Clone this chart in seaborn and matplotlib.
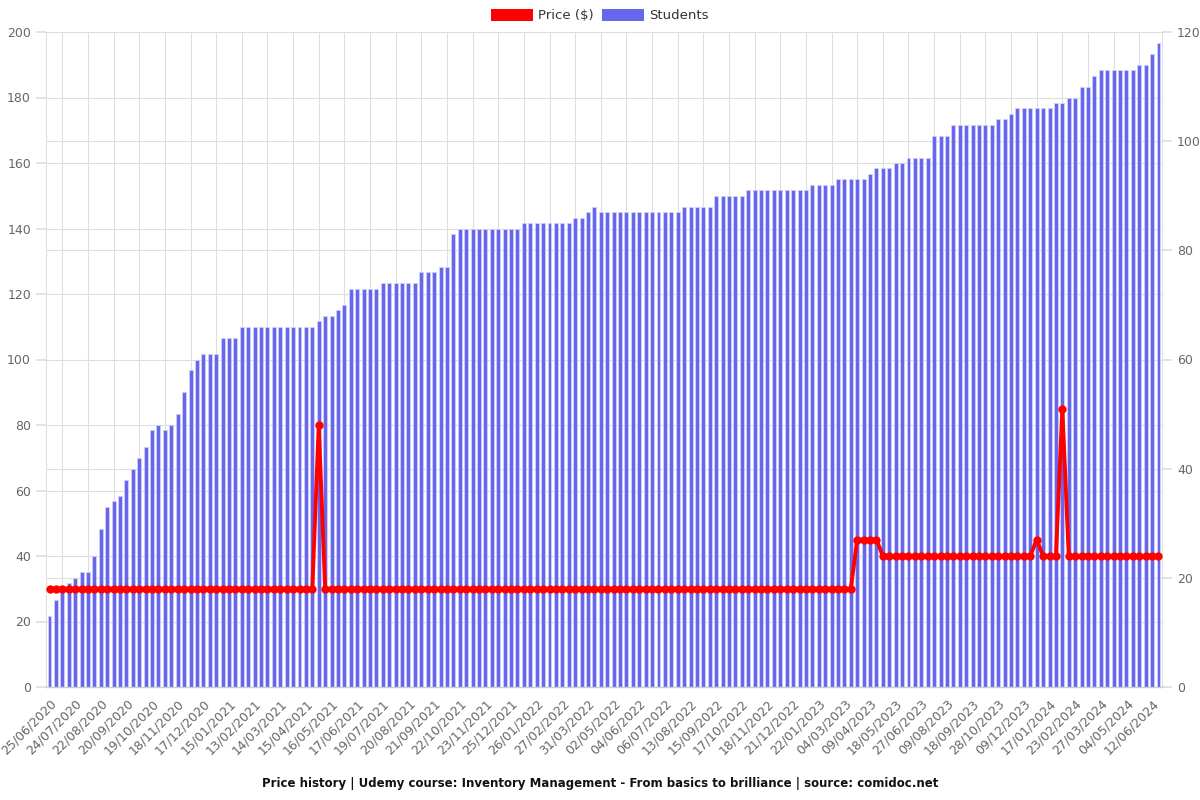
import numpy as np
import pandas as pd
import matplotlib
matplotlib.use("Agg")
import matplotlib.pyplot as plt
import matplotlib.transforms as mtransforms
from matplotlib.patches import Patch
import seaborn as sns

# ---------------- data ----------------
students = [
    13, 16, 18, 19, 20, 21, 21, 24, 29, 33, 34, 35, 38, 40, 42, 44, 47, 48, 47, 48,
    50, 54, 58, 60, 61, 61, 61, 64, 64, 64, 66, 66, 66, 66, 66, 66, 66, 66, 66, 66,
    66, 66, 67, 68, 68, 69, 70, 73, 73, 73, 73, 73, 74, 74, 74, 74, 74, 74, 76, 76,
    76, 77, 77, 83, 84, 84, 84, 84, 84, 84, 84, 84, 84, 84, 85, 85, 85, 85, 85, 85,
    85, 85, 86, 86, 87, 88, 87, 87, 87, 87, 87, 87, 87, 87, 87, 87, 87, 87, 87, 88,
    88, 88, 88, 88, 90, 90, 90, 90, 90, 91, 91, 91, 91, 91, 91, 91, 91, 91, 91, 92,
    92, 92, 92, 93, 93, 93, 93, 93, 94, 95, 95, 95, 96, 96, 97, 97, 97, 97, 101, 101,
    101, 103, 103, 103, 103, 103, 103, 103, 104, 104, 105, 106, 106, 106, 106, 106, 106, 107, 107, 108,
    108, 110, 110, 112, 113, 113, 113, 113, 113, 113, 114, 114, 116, 118,
]

price = [
    30, 30, 30, 30, 30, 30, 30, 30, 30, 30, 30, 30, 30, 30, 30, 30, 30, 30, 30, 30,
    30, 30, 30, 30, 30, 30, 30, 30, 30, 30, 30, 30, 30, 30, 30, 30, 30, 30, 30, 30,
    30, 30, 80, 30, 30, 30, 30, 30, 30, 30, 30, 30, 30, 30, 30, 30, 30, 30, 30, 30,
    30, 30, 30, 30, 30, 30, 30, 30, 30, 30, 30, 30, 30, 30, 30, 30, 30, 30, 30, 30,
    30, 30, 30, 30, 30, 30, 30, 30, 30, 30, 30, 30, 30, 30, 30, 30, 30, 30, 30, 30,
    30, 30, 30, 30, 30, 30, 30, 30, 30, 30, 30, 30, 30, 30, 30, 30, 30, 30, 30, 30,
    30, 30, 30, 30, 30, 30, 45, 45, 45, 45, 40, 40, 40, 40, 40, 40, 40, 40, 40, 40,
    40, 40, 40, 40, 40, 40, 40, 40, 40, 40, 40, 40, 40, 40, 45, 40, 40, 40, 85, 40,
    40, 40, 40, 40, 40, 40, 40, 40, 40, 40, 40, 40, 40, 40,
]

date_labels = [
    "25/06/2020", "24/07/2020", "22/08/2020", "20/09/2020", "19/10/2020", "18/11/2020",
    "17/12/2020", "15/01/2021", "13/02/2021", "14/03/2021", "15/04/2021", "16/05/2021",
    "17/06/2021", "19/07/2021", "20/08/2021", "21/09/2021", "22/10/2021", "23/11/2021",
    "25/12/2021", "26/01/2022", "27/02/2022", "31/03/2022", "02/05/2022", "04/06/2022",
    "06/07/2022", "13/08/2022", "15/09/2022", "17/10/2022", "18/11/2022", "21/12/2022",
    "22/01/2023", "04/03/2023", "09/04/2023", "18/05/2023", "27/06/2023", "09/08/2023",
    "18/09/2023", "28/10/2023", "09/12/2023", "17/01/2024", "23/02/2024", "27/03/2024",
    "04/05/2024", "12/06/2024",
]

price_ticks = [0, 20, 40, 60, 80, 100, 120, 140, 160, 180, 200]
student_ticks = [0, 20, 40, 60, 80, 100, 120]

title = ("Price history | Udemy course: Inventory Management - From basics to brilliance"
         " | source: comidoc.net")

# ---------------- styling ----------------
BAR = "#6767ee"
BAR_EDGE = "#cfcff9"
GRID = "#dedede"
TXT = "#666666"

sns.set_theme(style="white")
plt.rcParams["font.family"] = ["DejaVu Sans"]

n = len(students)
idx = np.arange(n)
df = pd.DataFrame({"idx": idx, "students": students, "price": price})

fig = plt.figure(figsize=(12, 8), dpi=100)
ax = fig.add_axes([46.3 / 1200, 1 - 687 / 800, (1161.7 - 46.3) / 1200, (687 - 32) / 800])
ax2 = ax.twinx()

# bars: students (right scale)
sns.barplot(data=df, x="idx", y="students", ax=ax, color=BAR, saturation=1,
            width=0.62, edgecolor=BAR_EDGE, linewidth=0.6, zorder=2)
ax.set_xlim(-0.5, n - 0.5)
ax.set_ylim(0, 120)
ax.set_axisbelow(True)

ax.yaxis.set_ticks_position("right")
ax.yaxis.set_label_position("right")
ax.set_yticks(student_ticks)
ax.set_yticklabels([str(v) for v in student_ticks], color=TXT, fontsize=9)
ax.set_yticks([v * 120 / 200 for v in price_ticks], minor=True)
ax.tick_params(axis="y", which="major", left=False, labelleft=False,
               right=True, labelright=True, length=7, color=GRID, pad=4)
ax.tick_params(axis="y", which="minor", left=False, right=False, length=0)
ax.grid(True, axis="y", which="both", color=GRID, linewidth=0.8)

# x axis: labels every 4 bars, tick marks / grid in between
label_pos = np.arange(0, n, 4)[: len(date_labels)]
ax.set_xticks(label_pos)
ax.set_xticklabels(date_labels, rotation=45, ha="right", rotation_mode="anchor",
                   color=TXT, fontsize=9)
shift = mtransforms.ScaledTranslation(4 / 100, 0, fig.dpi_scale_trans)
for lab in ax.get_xticklabels():
    lab.set_transform(lab.get_transform() + shift)
ax.set_xticks(np.arange(2, n, 4), minor=True)
ax.tick_params(axis="x", which="major", length=0, pad=7)
ax.tick_params(axis="x", which="minor", length=5, color="#cccccc")
ax.grid(True, axis="x", which="minor", color=GRID, linewidth=0.8)
ax.set_xlabel("")
ax.set_ylabel("")
for s in ["left", "right", "top"]:
    ax.spines[s].set_color(GRID)
    ax.spines[s].set_linewidth(0.8)
ax.spines["bottom"].set_color("#cccccc")
ax.spines["bottom"].set_linewidth(1.0)

# price line (left scale), drawn on top
sns.lineplot(data=df, x="idx", y="price", ax=ax2, color="#ff0000", linewidth=2.8,
             marker="o", markersize=6, markeredgewidth=0, zorder=5)
ax2.set_ylim(0, 200)
ax2.yaxis.set_ticks_position("left")
ax2.yaxis.set_label_position("left")
ax2.set_yticks(price_ticks)
ax2.set_yticklabels([str(v) for v in price_ticks], color=TXT, fontsize=9)
ax2.tick_params(axis="y", left=True, labelleft=True, right=False, labelright=False,
                length=7, color=GRID, pad=4)
ax2.set_ylabel("")
ax2.set_xlabel("")
ax2.grid(False)
for s in ax2.spines.values():
    s.set_visible(False)
ax2.set_xlim(-0.5, n - 0.5)

# legend
handles = [Patch(facecolor="#ff0000", edgecolor="none", label="Price ($)"),
           Patch(facecolor=BAR, edgecolor="none", label="Students")]
fig.legend(handles=handles, loc="center", bbox_to_anchor=(0.5, 1 - 15.5 / 800), ncol=2,
           frameon=False, fontsize=9.5, handlelength=3.2, handleheight=1.0,
           handletextpad=0.4, columnspacing=0.6, labelcolor="#333333")

fig.text(0.5, 1 - 783 / 800, title, ha="center", va="center", fontsize=8.5,
         fontweight="bold", color="#111111")

fig.savefig("out.png", dpi=100)
